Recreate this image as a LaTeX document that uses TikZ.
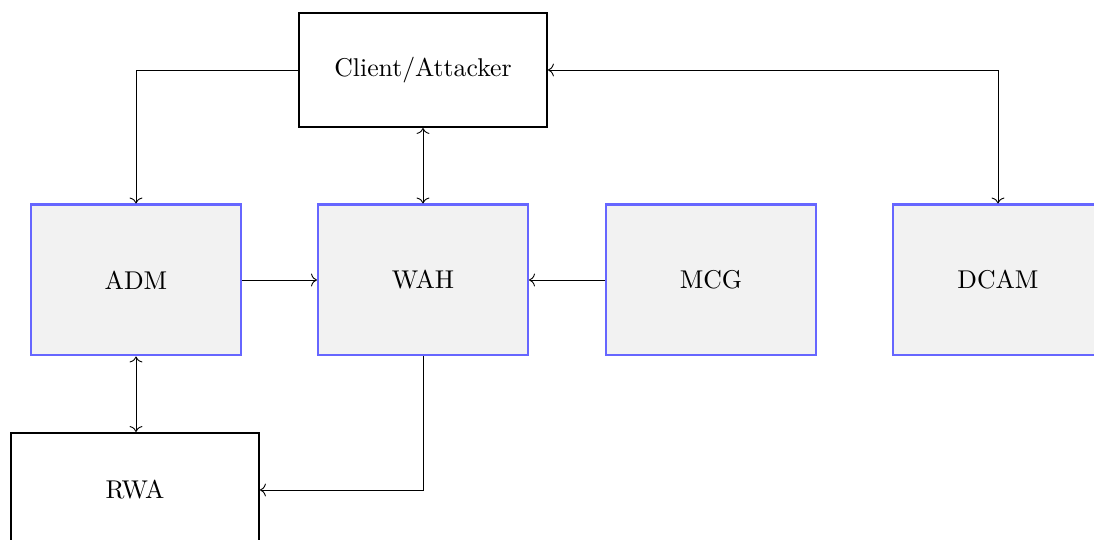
\documentclass[tikz,border=0pt]{standalone}
\usetikzlibrary{arrows.meta}
\begin{document}
\begin{tikzpicture}[x=0.3889pt,y=-0.3889pt,
  tip/.style={To[length=2.3pt,width=5pt]},
  plainbox/.style={draw=black,line width=0.8pt,fill=white,minimum width=96.4pt,minimum height=44.3pt,inner sep=0pt},
  modbox/.style={draw=blue!60,line width=0.8pt,fill=gray!10,minimum width=81.7pt,minimum height=58.7pt,inner sep=0pt},
  link/.style={draw=black,line width=0.35pt,arrows={-To[length=2.3pt,width=5pt]}},
  twoway/.style={link,arrows={To[length=2.3pt,width=5pt]-To[length=2.3pt,width=5pt]}}]
  \clip (0,0) rectangle (1094,540);
  \useasboundingbox (0,0) rectangle (1094,540);

  % components
  \node[plainbox] (ca)   at (423,70)  {Client/Attacker};
  \node[modbox]   (adm)  at (136,280) {ADM};
  \node[modbox]   (wah)  at (423,280) {WAH};
  \node[modbox]   (mcg)  at (711,280) {MCG};
  \node[modbox]   (dcam) at (998,280) {DCAM};
  \node[plainbox] (rwa)  at (135,490) {RWA};

  % connections
  \draw[link]   (ca.west) -| (adm.north);
  \draw[twoway] (ca.south) -- (wah.north);
  \draw[twoway] (ca.east) -| (dcam.north);
  \draw[link]   (adm.east) -- (wah.west);
  \draw[link]   (mcg.west) -- (wah.east);
  \draw[twoway] (adm.south) -- (adm.south |- rwa.north);
  \draw[link]   (wah.south) |- (rwa.east);
\end{tikzpicture}
\end{document}
